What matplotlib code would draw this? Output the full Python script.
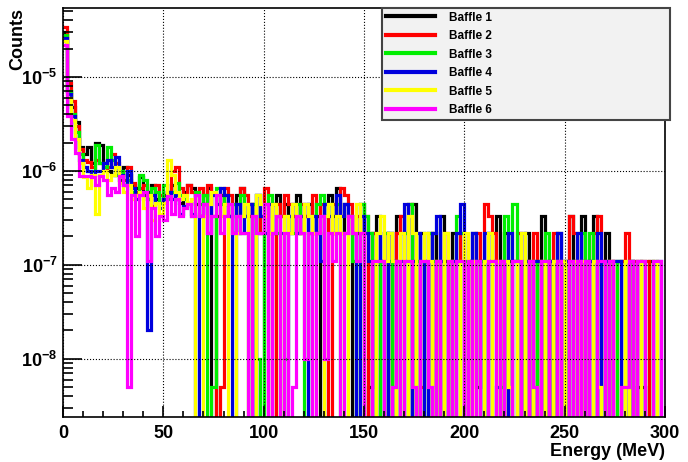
import numpy as np
import matplotlib
matplotlib.use('Agg')
import matplotlib.pyplot as plt
from matplotlib.ticker import MultipleLocator, LogLocator, FuncFormatter, NullFormatter

plt.rcParams['font.family'] = ['Liberation Sans', 'DejaVu Sans']
plt.rcParams['font.weight'] = 'bold'
plt.rcParams['mathtext.fontset'] = 'custom'
plt.rcParams['mathtext.bf'] = 'Liberation Sans:bold'
plt.rcParams['mathtext.rm'] = 'Liberation Sans:bold'

# 2 MeV bins, 0-300 MeV; values in units of 1e-9 counts, 0 = empty bin
edges = np.arange(0, 302, 2)
labels = ['Baffle 1', 'Baffle 2', 'Baffle 3', 'Baffle 4', 'Baffle 5', 'Baffle 6']
colors = ['#000000', '#ff0000', '#00ee00', '#0000dd', '#ffff00', '#ff00ff']

baffle1 = [30000, 7000, 4800, 3300, 1800, 1500, 1800, 1200, 2000, 1900,
           1200, 1000, 900, 1100, 800, 1100, 900, 700, 650, 850,
           550, 600, 700, 500, 450, 550, 600, 700, 500, 450,
           600, 700, 650, 440, 330, 550, 660, 0, 330, 550,
           440, 330, 220, 550, 660, 330, 440, 0, 550, 220,
           0, 0, 440, 550, 330, 440, 220, 330, 550, 220,
           330, 440, 220, 330, 0, 440, 550, 330, 660, 220,
           440, 330, 0, 220, 440, 0, 5, 220, 330, 110,
           0, 220, 0, 330, 220, 110, 0, 440, 0, 220,
           110, 0, 220, 0, 330, 110, 0, 220, 110, 0,
           0, 110, 220, 5, 110, 0, 220, 110, 330, 0,
           220, 110, 0, 110, 0, 220, 0, 110, 0, 330,
           0, 110, 0, 220, 110, 0, 330, 110, 0, 330,
           0, 110, 330, 0, 110, 220, 0, 110, 110, 110,
           0, 110, 0, 5, 5, 0, 110, 0, 0, 0]

baffle2 = [34000, 8500, 5500, 3000, 1700, 1300, 1250, 1100, 1300, 1200,
           1000, 1100, 1500, 1200, 900, 800, 1100, 750, 600, 650,
           700, 500, 420, 700, 550, 500, 600, 1000, 1100, 650,
           550, 700, 600, 550, 660, 440, 700, 330, 0, 5,
           660, 550, 440, 330, 660, 550, 330, 440, 220, 330,
           660, 220, 0, 440, 330, 550, 440, 330, 220, 440,
           330, 330, 550, 220, 440, 330, 0, 440, 330, 660,
           550, 440, 220, 330, 220, 330, 0, 220, 0, 110,
           220, 0, 110, 220, 330, 220, 440, 110, 0, 5,
           110, 220, 0, 110, 0, 220, 110, 0, 110, 220,
           0, 110, 0, 220, 110, 440, 330, 220, 110, 0,
           110, 0, 110, 220, 0, 110, 0, 220, 110, 0,
           110, 0, 220, 110, 0, 110, 330, 220, 0, 110,
           0, 110, 220, 330, 110, 0, 110, 0, 0, 110,
           220, 0, 110, 0, 110, 110, 0, 0, 0, 0]

baffle3 = [28000, 7000, 4000, 2600, 1500, 1100, 1000, 1000, 1900, 1200,
           1100, 1800, 1300, 900, 1000, 700, 800, 600, 550, 900,
           800, 500, 650, 600, 450, 700, 500, 600, 750, 550,
           500, 450, 330, 600, 440, 550, 0, 5, 660, 440,
           550, 330, 440, 220, 550, 330, 0, 440, 10, 0,
           330, 550, 440, 220, 0, 10, 330, 220, 440, 330,
           0, 220, 330, 440, 550, 330, 440, 220, 440, 0,
           220, 330, 110, 0, 440, 330, 220, 0, 110, 0,
           220, 110, 0, 110, 0, 220, 440, 0, 110, 110,
           0, 220, 110, 0, 110, 0, 110, 0, 330, 220,
           110, 110, 0, 0, 110, 0, 110, 0, 0, 5,
           330, 0, 440, 110, 0, 110, 110, 0, 110, 0,
           220, 0, 110, 0, 0, 110, 0, 110, 0, 220,
           110, 220, 0, 110, 0, 110, 0, 0, 110, 0,
           0, 110, 0, 0, 110, 0, 0, 110, 0, 0]

baffle4 = [26000, 6500, 3800, 2200, 1300, 1100, 1000, 900, 1000, 1000,
           1200, 1300, 1100, 1400, 900, 700, 1000, 650, 500, 600,
           600, 20, 550, 450, 400, 500, 600, 500, 550, 350,
           420, 450, 350, 0, 330, 440, 220, 550, 440, 660,
           550, 330, 0, 440, 220, 330, 440, 0, 550, 330,
           220, 440, 220, 330, 220, 0, 330, 440, 220, 330,
           440, 0, 330, 220, 110, 440, 330, 220, 550, 330,
           440, 330, 220, 0, 330, 220, 110, 0, 220, 110,
           0, 220, 110, 0, 110, 440, 0, 110, 220, 0,
           110, 0, 220, 330, 110, 0, 0, 110, 220, 440,
           0, 110, 220, 110, 0, 220, 110, 0, 5, 110,
           0, 220, 110, 0, 220, 110, 0, 110, 110, 0,
           0, 110, 0, 220, 0, 110, 0, 110, 220, 110,
           0, 110, 0, 220, 0, 110, 0, 110, 110, 0,
           0, 110, 0, 110, 0, 0, 0, 0, 110, 0]

baffle5 = [24000, 6000, 3500, 2200, 1200, 850, 650, 900, 350, 900,
           1000, 800, 900, 1100, 750, 600, 700, 500, 550, 600,
           400, 550, 300, 450, 350, 450, 1300, 900, 600, 500,
           550, 450, 500, 0, 0, 330, 440, 600, 550, 330,
           440, 0, 0, 220, 330, 440, 0, 0, 550, 440,
           330, 220, 440, 330, 0, 330, 220, 440, 330, 220,
           440, 330, 220, 0, 0, 330, 440, 220, 330, 220,
           0, 330, 220, 440, 220, 0, 0, 0, 220, 330,
           110, 220, 110, 0, 220, 0, 330, 220, 0, 110,
           220, 110, 0, 110, 0, 220, 110, 0, 0, 110,
           220, 0, 110, 0, 0, 110, 220, 0, 110, 0,
           110, 5, 0, 110, 220, 0, 110, 0, 0, 110,
           0, 0, 110, 0, 110, 0, 0, 110, 0, 110,
           0, 0, 110, 5, 0, 0, 110, 0, 0, 0,
           110, 0, 0, 110, 0, 0, 0, 110, 0, 0]

baffle6 = [22000, 3800, 2200, 1550, 870, 870, 870, 850, 700, 870,
           800, 550, 650, 600, 870, 700, 5, 550, 200, 550,
           600, 110, 400, 200, 330, 300, 540, 350, 500, 330,
           400, 440, 330, 550, 330, 440, 220, 330, 550, 220,
           330, 440, 220, 330, 220, 220, 0, 330, 220, 220,
           440, 0, 220, 330, 0, 220, 0, 5, 330, 220,
           10, 220, 0, 220, 330, 10, 220, 110, 220, 0,
           220, 330, 220, 110, 220, 0, 0, 110, 110, 110,
           0, 0, 5, 110, 0, 110, 110, 5, 0, 110,
           110, 5, 0, 110, 0, 0, 110, 0, 110, 110,
           0, 110, 0, 110, 0, 0, 110, 110, 0, 110,
           0, 0, 110, 110, 0, 0, 110, 5, 0, 110,
           110, 0, 0, 110, 0, 0, 110, 0, 110, 0,
           110, 0, 0, 110, 110, 0, 110, 0, 0, 5,
           5, 110, 0, 110, 110, 0, 0, 110, 110, 0]

series = [baffle1, baffle2, baffle3, baffle4, baffle5, baffle6]

fig = plt.figure(figsize=(6.88, 4.62), dpi=100)
ax = fig.add_axes([63/688, 1-417/462, 602/688, 409/462])

for vals, lab, col in zip(series, labels, colors):
    v = np.array(vals, dtype=float) * 1e-9
    v[v == 0] = 1e-14   # empty bins drop to the bottom like ROOT
    ax.stairs(v, edges, baseline=None, color=col, lw=2.3, label=lab)

ax.set_yscale('log')
ax.set_xlim(0, 300)
ax.set_ylim(2.4e-9, 5.4e-5)

ax.xaxis.set_major_locator(MultipleLocator(50))
ax.xaxis.set_minor_locator(MultipleLocator(10))
ax.yaxis.set_major_locator(LogLocator(base=10, numticks=10))
ax.yaxis.set_minor_locator(LogLocator(base=10, subs=np.arange(2, 10), numticks=10))
ax.yaxis.set_major_formatter(FuncFormatter(lambda y, p: r'$\mathbf{10^{%d}}$' % int(round(np.log10(y)))))
ax.yaxis.set_minor_formatter(NullFormatter())

ax.tick_params(which='both', direction='in', top=False, right=False, labelsize=13, width=1.2)
ax.tick_params(axis='x', which='major', length=8, pad=6)
ax.tick_params(axis='x', which='minor', length=4)
ax.tick_params(axis='y', which='major', length=14, pad=4)
ax.tick_params(axis='y', which='minor', length=7)
for lab in ax.get_xticklabels():
    lab.set_fontweight('bold')

ax.grid(True, which='major', color='black', linestyle=':', lw=0.8)
for s in ax.spines.values():
    s.set_linewidth(1.2)

fig.text(18/688, 1-8/462, 'Counts', rotation=90, ha='center', va='top', fontsize=13, fontweight='bold')
fig.text(665/688, 1-452/462, 'Energy (MeV)', ha='right', va='center', fontsize=13, fontweight='bold')

leg = fig.legend(loc='upper left', bbox_to_anchor=(382/688, 1-110/462, 288/688, 102/462),
                 mode='expand', fontsize=8.5, frameon=True, fancybox=False,
                 handlelength=4.2, handletextpad=1.2, labelspacing=0.55,
                 borderaxespad=0, borderpad=0.3)
leg.get_frame().set_facecolor('#f2f2f2')
leg.get_frame().set_edgecolor('#444444')
leg.get_frame().set_linewidth(1.5)
leg.get_frame().set_alpha(1)
for t in leg.get_texts():
    t.set_fontweight('bold')
for h in leg.legend_handles:
    h.set_linewidth(3)

fig.savefig('out.png', dpi=100)
